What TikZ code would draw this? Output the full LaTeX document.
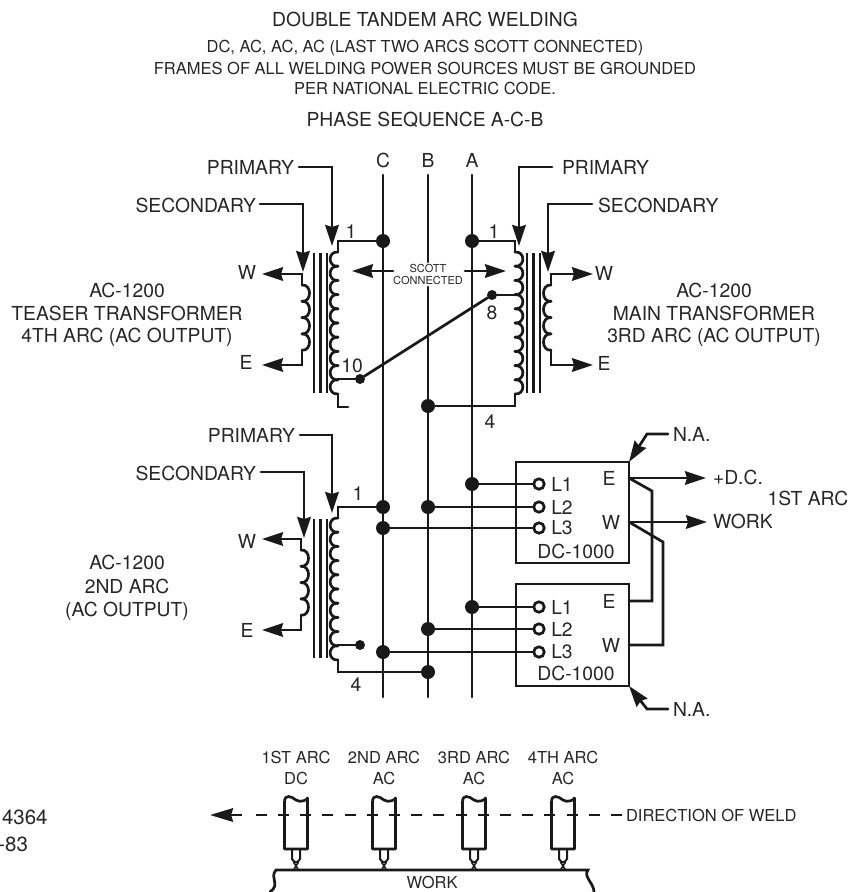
\documentclass[tikz,border=0pt]{standalone}
\usepackage{fontspec}
\setmainfont{TeX Gyre Heros}
\usetikzlibrary{arrows.meta, calc}
\newcommand{\arrow}{{Stealth[length=21pt, width=13.5pt, inset=2pt]}}
\newcommand{\weldArrow}{{Stealth[length=23pt, width=13.5pt, inset=2pt]}}
\newcommand{\lineWidth}{2.7pt}
\newcommand{\dotRadius}{7pt}
\newcommand{\tapRadius}{5pt}
\newcommand{\coilBulge}{10.5}
\newcommand{\coilPitch}{14.2}
\newcommand{\sideBulge}{10}
\newcommand{\sidePitch}{16.3}
\newcommand{\bigText}{\fontsize{19.3}{22}\selectfont}
\newcommand{\midText}{\fontsize{16.5}{19}\selectfont}
\newcommand{\tinyText}{\fontsize{11}{13}\selectfont}
\tikzstyle{panel}=[draw=none, inner sep=0, outer sep=0, text=black!85, font=\bigText]
\tikzstyle{line}=[draw=black!90, line width=\lineWidth, cap=round]
\tikzstyle{core}=[line, line width=2.2pt, cap=butt]
\tikzstyle{arrow}=[line, -\arrow]
\tikzstyle{dot}=[circle, fill=black!90, inner sep=0, outer sep=0, minimum size=2*\dotRadius]
\tikzstyle{tap}=[dot, minimum size=2*\tapRadius]
\tikzstyle{terminal}=[circle, draw=black!90, fill=white, line width=\lineWidth, inner sep=0, outer sep=0, minimum size=10.5pt]
\tikzstyle{box}=[draw=black!90, line width=\lineWidth, inner sep=0, outer sep=0]
% coil: x, top y, bumps, pitch, bulge
\newcommand{\coil}[5]{
  \foreach \i in {1,...,#3} {
    \draw[line] (#1,{#2+(\i-1)*#4})
      .. controls ({#1+#5},{#2+(\i-1)*#4-1}) and ({#1+#5},{#2+\i*#4+1})
      .. (#1,{#2+\i*#4});
  }
}
\begin{document}
\begin{tikzpicture}[x=1pt, y=-1pt]
\useasboundingbox (0,0) rectangle (849,892);

% Titles
\node[panel] (title) at (425,19) {DOUBLE TANDEM ARC WELDING};
\node[panel, font=\midText] (noteA) at (425,48) {DC, AC, AC, AC (LAST TWO ARCS SCOTT CONNECTED)};
\node[panel, font=\midText] (noteB) at (425,68) {FRAMES OF ALL WELDING POWER SOURCES MUST BE GROUNDED};
\node[panel, font=\midText] (noteC) at (425,88) {PER NATIONAL ELECTRIC CODE.};
\node[panel] (sequence) at (425,120) {PHASE SEQUENCE A-C-B};

% Phase lines
\node[panel] (phaseC) at (383,160) {C};
\node[panel] (phaseB) at (428,160) {B};
\node[panel] (phaseA) at (472,160) {A};
\coordinate (topC) at (383,175);
\coordinate (topB) at (428,175);
\coordinate (topA) at (472,175);
\coordinate (endC) at (383,697);
\coordinate (endB) at (428,697);
\coordinate (endA) at (472,697);
\node[panel, font=\tinyText, align=center, inner ysep=2pt] (scott) at (428,274.5) {SCOTT\\[-0.5pt]CONNECTED};
\draw[line] (topC) -- (endC);
\draw[line] (topB) -- (scott.north -| topB);
\draw[line] (scott.south -| topB) -- (endB);
\draw[line] (topA) -- (endA);

% Junctions
\node[dot] (dotTeaser) at (383,241) {};
\node[dot] (dotMain) at (472,241) {};
\node[dot] (dotMainEnd) at (428,406) {};
\node[dot] (dotTwoC) at (383,507) {};
\node[dot] (dotTwoB) at (428,507) {};
\node[dot] (dotTwoA) at (472,484) {};
\node[dot] (dotThreeC) at (383,528) {};
\node[dot] (dotLowA) at (472,607) {};
\node[dot] (dotLowB) at (428,629) {};
\node[dot] (dotLowC) at (383,652) {};
\node[dot] (dotTwoEnd) at (428,672) {};
\node[tap] (tapTen) at (360,379) {};
\node[tap] (tapEight) at (492,295) {};
\node[tap] (tapTwo) at (360,645) {};

% Teaser transformer
\coil{338}{252}{10}{\coilPitch}{-\coilBulge}
\coil{302}{285}{4}{\sidePitch}{\sideBulge}
\foreach \x in {314,320.5,327} {
  \draw[core] (\x,253) -- (\x,393);
}
\coordinate (teaserTop) at (338,252);
\coordinate (teaserEnd) at (338,394);
\coordinate (teaserFree) at (348,407);
\coordinate (teaserSecTop) at (302,285);
\coordinate (teaserSecEnd) at (302,350);
\coordinate (teaserWTip) at (262,274);
\coordinate (teaserETip) at (262,365);
\coordinate (teaserPrimTip) at (332,246);
\coordinate (teaserSecTip) at (303,272);
\draw[line] (dotTeaser) -| (teaserTop);
\draw[line] (teaserEnd) |- (teaserFree);
\draw[line] (tapTen) -- (tapTen -| teaserTop);
\draw[line] (tapTen) -- (tapEight);
\draw[arrow] (teaserSecTop) |- (teaserWTip);
\draw[arrow] (teaserSecEnd) |- (teaserETip);
\node[panel] (teaserW) at (247,272) {W};
\node[panel] (teaserE) at (246,362) {E};
\node[panel, anchor=east] (primaryA) at (294,167) {PRIMARY};
\node[panel, anchor=east] (secondaryA) at (256,205) {SECONDARY};
\draw[arrow] (primaryA.east)++(5,0) -| (teaserPrimTip);
\draw[arrow] (secondaryA.east)++(4,-1) -| (teaserSecTip);
\node[panel] (oneTeaser) at (351,232) {1};
\node[panel] (tenTeaser) at (352,366) {10};
\node[panel] (teaserRowA) at (127,290) {AC-1200};
\node[panel] (teaserRowB) at (127,313) {TEASER TRANSFORMER};
\node[panel] (teaserRowC) at (127,337) {4TH ARC (AC OUTPUT)};

% Main transformer
\coil{515}{252}{10}{\coilPitch}{\coilBulge}
\coil{551}{285}{4}{\sidePitch}{-\sideBulge}
\foreach \x in {527,533.5,540} {
  \draw[core] (\x,253) -- (\x,393);
}
\coordinate (mainTop) at (515,252);
\coordinate (mainEnd) at (515,394);
\coordinate (mainSecTop) at (551,285);
\coordinate (mainSecEnd) at (551,350);
\coordinate (mainWTip) at (593,274);
\coordinate (mainETip) at (593,365);
\coordinate (mainPrimTip) at (519,246);
\coordinate (mainSecTip) at (548,272);
\draw[line] (dotMain) -| (mainTop);
\draw[line] (mainEnd) |- (dotMainEnd);
\draw[line] (tapEight) -- (tapEight -| mainTop);
\draw[arrow] (mainSecTop) |- (mainWTip);
\draw[arrow] (mainSecEnd) |- (mainETip);
\node[panel] (mainW) at (604,273) {W};
\node[panel] (mainE) at (604,363) {E};
\node[panel, anchor=west] (primaryB) at (562,167) {PRIMARY};
\node[panel, anchor=west] (secondaryB) at (598,205) {SECONDARY};
\draw[arrow] (primaryB.west)++(-10,0) -| (mainPrimTip);
\draw[arrow] (secondaryB.west)++(-6,-1) -| (mainSecTip);
\node[panel] (oneMain) at (494,232) {1};
\node[panel] (eightMain) at (492,313) {8};
\node[panel] (fourMain) at (490,422) {4};
\node[panel] (mainRowA) at (714,290) {AC-1200};
\node[panel] (mainRowB) at (714,313) {MAIN TRANSFORMER};
\node[panel] (mainRowC) at (714,337) {3RD ARC (AC OUTPUT)};

% Scott arrows
\coordinate (scottLeftTail) at (393,271);
\coordinate (scottLeftTip) at (352,271);
\coordinate (scottRightTail) at (465,271);
\coordinate (scottRightTip) at (506,271);
\draw[arrow] (scottLeftTail) -- (scottLeftTip);
\draw[arrow] (scottRightTail) -- (scottRightTip);

% 2nd arc transformer
\coil{338}{518}{10}{\coilPitch}{-\coilBulge}
\coil{301}{550}{4}{\sidePitch}{\sideBulge}
\foreach \x in {314,320.5,327} {
  \draw[core] (\x,519) -- (\x,658);
}
\coordinate (twoTop) at (338,518);
\coordinate (twoEnd) at (338,660);
\coordinate (twoSecTop) at (301,550);
\coordinate (twoSecEnd) at (301,616);
\coordinate (twoWTip) at (262,539);
\coordinate (twoETip) at (262,630);
\coordinate (twoPrimTip) at (332,513);
\coordinate (twoSecTip) at (304,538);
\draw[line] (dotTwoC) -| (twoTop);
\draw[line] (twoEnd) |- (dotTwoEnd);
\draw[line] (tapTwo) -- (tapTwo -| twoTop);
\draw[arrow] (twoSecTop) |- (twoWTip);
\draw[arrow] (twoSecEnd) |- (twoETip);
\node[panel] (twoW) at (247,541) {W};
\node[panel] (twoE) at (247,630) {E};
\node[panel, anchor=east] (primaryC) at (295,435) {PRIMARY};
\node[panel, anchor=east] (secondaryC) at (256,473) {SECONDARY};
\draw[arrow] (primaryC.east)++(5,0) -| (twoPrimTip);
\draw[arrow] (secondaryC.east)++(5,-1) -| (twoSecTip);
\node[panel] (oneTwo) at (358,494) {1};
\node[panel] (fourTwo) at (356,685) {4};
\node[panel] (twoRowA) at (127,562) {AC-1200};
\node[panel] (twoRowB) at (127,586) {2ND ARC};
\node[panel] (twoRowC) at (127,611) {(AC OUTPUT)};

% DC-1000 boxes
\node[box, minimum width=113pt, minimum height=101pt, anchor=north west] (boxUp) at (516,462) {};
\node[box, minimum width=113pt, minimum height=102pt, anchor=north west] (boxLow) at (516,584) {};
\foreach \name/\yy in {UpOne/484, UpTwo/507, UpThree/528, LowOne/607, LowTwo/629, LowThree/652} {
  \node[terminal] (pin\name) at (539,\yy) {};
}
\draw[line] (dotTwoA) -- (pinUpOne);
\draw[line] (dotTwoB) -- (pinUpTwo);
\draw[line] (dotThreeC) -- (pinUpThree);
\draw[line] (dotLowA) -- (pinLowOne);
\draw[line] (dotLowB) -- (pinLowTwo);
\draw[line] (dotLowC) -- (pinLowThree);
\foreach \name/\num in {UpOne/1, UpTwo/2, UpThree/3, LowOne/1, LowTwo/2, LowThree/3} {
  \node[panel, anchor=west, xshift=7pt] (label\name) at (pin\name.east) {L\num};
}
\node[panel] (upE) at (609,478) {E};
\node[panel] (upW) at (611,522) {W};
\node[panel] (upName) at (576,551) {DC-1000};
\node[panel] (lowE) at (609,601) {E};
\node[panel] (lowW) at (611,645) {W};
\node[panel] (lowName) at (576,673) {DC-1000};
\coordinate (upEOut) at (629,478);
\coordinate (upWOut) at (629,522);
\coordinate (lowEOut) at (629,601);
\coordinate (lowWOut) at (629,645);
\coordinate (upEBend) at (652,491);
\coordinate (upWBend) at (663,542);
\coordinate (upETip) at (706,478);
\coordinate (upWTip) at (707,522);
\node[panel, anchor=west] (plusDC) at (713,477) {+D.C.};
\node[panel, anchor=west] (workOut) at (713,521) {WORK};
\node[panel] (firstArc) at (808,498) {1ST ARC};
\draw[arrow] (upEOut) -- (upETip);
\draw[arrow] (upWOut) -- (upWTip);
\draw[line] (upEOut) -- (upEBend) |- (lowEOut);
\draw[line] (upWOut) -- (upWBend) |- (lowWOut);
\node[panel, anchor=west] (naUp) at (673,434) {N.A.};
\node[panel, anchor=west] (naLow) at (673,709) {N.A.};
\coordinate (naUpBend) at (647,434);
\coordinate (naLowBend) at (647,709);
\draw[arrow] (naUp.west)++(-5,0) -- (naUpBend) -- (boxUp.north east);
\draw[arrow] (naLow.west)++(-5,0) -- (naLowBend) -- (boxLow.south east);

% Torches
\foreach \name/\xx/\rowA/\rowB in {one/296/1ST ARC/DC, two/384/2ND ARC/AC, three/474/3RD ARC/AC, four/563/4TH ARC/AC} {
  \node[panel, font=\midText] (arc\name) at (\xx,757) {\rowA};
  \node[panel, font=\midText] (kind\name) at (\xx,778) {\rowB};
  \draw[line, cap=butt, line join=round] (\xx-11.5,849) -- (\xx-11.5,802)
    .. controls (\xx-11.5,794) and (\xx-5,796) .. (\xx,800)
    .. controls (\xx+4,803) and (\xx+11.5,800) .. (\xx+11.5,798)
    -- (\xx+11.5,849) -- cycle;
  \draw[line, line width=2pt] (\xx-4,849) -- (\xx-4,859) -- (\xx-1.5,862) -- (\xx+1.5,862) -- (\xx+4,859) -- (\xx+4,849);
  \draw[line, line width=1.6pt] (\xx-2.5,862) -- (\xx+2.5,870);
  \draw[line, line width=1.6pt] (\xx+2.5,862) -- (\xx-2.5,870);
}

% Direction of weld
\node[panel, anchor=west, font=\midText] (direction) at (626,815) {DIRECTION OF WELD};
\coordinate (weldTip) at (210,815);
\coordinate (weldTail) at (242,815);
\coordinate (weldDash) at (254,815);
\draw[line, cap=butt, dash pattern=on 11pt off 11.2pt] (direction.west)++(-4,0) -- (weldDash);
\draw[line, cap=butt, -\weldArrow] (weldTail) -- (weldTip);

% Work
\coordinate (workLeft) at (276,870);
\coordinate (workRight) at (588,870);
\coordinate (workLeftEnd) at (270,892);
\coordinate (workRightEnd) at (594,892);
\draw[line] (workLeftEnd) .. controls (281,884) and (269,878) .. (workLeft) -- (workRight)
  .. controls (583,877) and (594,883) .. (workRightEnd);
\node[panel, font=\midText] (workLabel) at (432,882) {WORK};

% Figure number
\node[panel, anchor=west, font=\fontsize{20.5}{24}\selectfont] (figA) at (2,817) {4364};
\node[panel, anchor=east, font=\fontsize{20.5}{24}\selectfont] (figB) at (28,844) {-83};

\end{tikzpicture}
\end{document}
